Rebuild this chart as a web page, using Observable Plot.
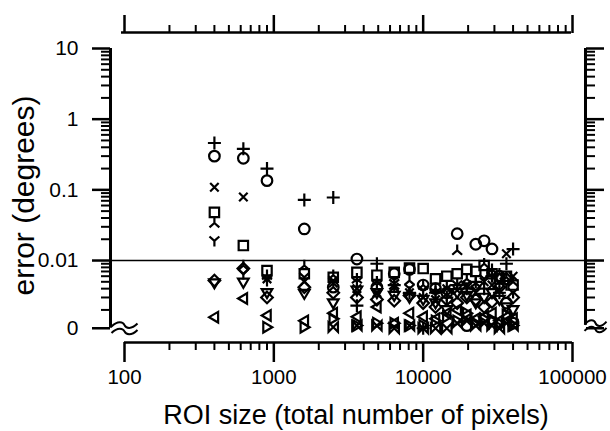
<!DOCTYPE html>
<html><head><meta charset="utf-8">
<script src="https://cdn.jsdelivr.net/npm/d3@7"></script>
<script src="https://cdn.jsdelivr.net/npm/@observablehq/plot@0.6"></script>
<style>html,body{margin:0;padding:0;background:#fff;}</style>
</head><body><div id="chart"></div>
<script>
// ROI sizes (total number of pixels)
const roiSizes = [400, 625, 900, 1600, 2500, 3600, 4900, 6400, 8100, 10000, 12100, 14400, 16900, 19600, 22500, 25600, 28900, 32400, 36100, 40000];
// error (degrees) per marker series; 0.0011 = plotted on the "0" break line
const plusErr     = [0.46, 0.38, 0.2, 0.072, 0.078, 0.0023, 0.009, 0.0045, 0.0035, 0.0011, 0.0035, 0.003, 0.0045, 0.004, 0.005, 0.004, 0.006, 0.0035, 0.009, 0.0145];
const circleErr   = [0.3, 0.28, 0.135, 0.028, 0.0042, 0.0105, 0.0042, 0.0065, 0.0075, 0.0045, 0.004, 0.0035, 0.024, 0.0012, 0.017, 0.019, 0.0146, 0.006, 0.0025, 0.0013];
const timesErr    = [0.109, 0.079, 0.0055, 0.005, 0.0048, 0.004, 0.0035, 0.0042, 0.0035, 0.003, 0.0028, 0.004, 0.0038, 0.0045, 0.0035, 0.005, 0.0045, 0.0038, 0.0125, 0.006];
const squareErr   = [0.048, 0.0163, 0.0072, 0.0065, 0.0058, 0.0068, 0.0062, 0.0068, 0.0078, 0.0077, 0.0055, 0.006, 0.0065, 0.0075, 0.007, 0.0085, 0.0065, 0.0055, 0.006, 0.0045];
const wyeDownErr  = [0.034, 0.0085, 0.0062, 0.0085, 0.0062, 0.0055, 0.005, 0.0045, 0.0052, 0.0045, 0.004, 0.0042, 0.0139, 0.0055, 0.0048, 0.009, 0.0075, 0.0065, 0.0058, 0.005];
const wyeErr      = [0.019, 0.0065, 0.0052, 0.0058, 0.0052, 0.005, 0.0045, 0.0047, 0.004, 0.0038, 0.0035, 0.0032, 0.0045, 0.0042, 0.0038, 0.0055, 0.006, 0.005, 0.0045, 0.0035];
const diamondErr  = [0.0052, 0.0077, 0.003, 0.0042, 0.0035, 0.003, 0.0028, 0.0027, 0.0032, 0.0025, 0.0022, 0.0028, 0.0025, 0.003, 0.0028, 0.0022, 0.0026, 0.0042, 0.0055, 0.003];
const triDownErr  = [0.0048, 0.0049, 0.0035, 0.0034, 0.0025, 0.0038, 0.0035, 0.0032, 0.003, 0.0028, 0.0025, 0.002, 0.0035, 0.0032, 0.0025, 0.003, 0.0035, 0.0028, 0.0022, 0.002];
const triLeftErr  = [0.00158, 0.0029, 0.00167, 0.0014, 0.0018, 0.0016, 0.0022, 0.0013, 0.0018, 0.0016, 0.0015, 0.0018, 0.002, 0.0017, 0.0015, 0.0016, 0.0018, 0.0014, 0.0016, 0.0015];
const triRightErr = [null, null, 0.00114, 0.00114, 0.0015, 0.0012, 0.0013, 0.0013, 0.0012, 0.0012, 0.0014, 0.0016, 0.0014, 0.0018, 0.0013, 0.0015, 0.0014, 0.0013, 0.0017, 0.0012];
const bowtieErr   = [null, null, null, null, 0.00114, 0.0012, 0.0012, 0.0011, 0.0012, 0.0011, 0.0011, 0.0011, 0.0013, 0.0014, 0.0012, 0.0013, 0.0012, 0.0011, 0.0013, 0.0012];

const thresholdErr = [0.01];
const xTicks = [100, 1000, 10000, 100000];
const xTickLabels = ["100", "1000", "10000", "100000"];
const yTicks = [10, 1, 0.1, 0.01, 0.0011];
const yTickLabels = ["10", "1", "0.1", "0.01", "0"];
const xTitle = "ROI size (total number of pixels)";
const yTitle = "error (degrees)";

// custom stroke symbols
const mk = (fn) => ({draw(ctx, size) { const r = Math.sqrt(size / Math.PI); fn(ctx, r); }});
const symPlus = mk((c, r) => { c.moveTo(-r, 0); c.lineTo(r, 0); c.moveTo(0, -r); c.lineTo(0, r); });
const symTimes = mk((c, r) => { const k = r * 0.8; c.moveTo(-k, -k); c.lineTo(k, k); c.moveTo(-k, k); c.lineTo(k, -k); });
const symCircle = mk((c, r) => { c.moveTo(r, 0); c.arc(0, 0, r, 0, 2 * Math.PI); c.closePath(); });
const symSquare = mk((c, r) => { c.moveTo(-r, -r); c.lineTo(r, -r); c.lineTo(r, r); c.lineTo(-r, r); c.closePath(); });
const symDiamond = mk((c, r) => { c.moveTo(0, -r); c.lineTo(r, 0); c.lineTo(0, r); c.lineTo(-r, 0); c.closePath(); });
const symTriDown = mk((c, r) => { c.moveTo(-r, -r * 0.7); c.lineTo(r, -r * 0.7); c.lineTo(0, r); c.closePath(); });
const symTriLeft = mk((c, r) => { c.moveTo(r * 0.7, -r); c.lineTo(r * 0.7, r); c.lineTo(-r, 0); c.closePath(); });
const symTriRight = mk((c, r) => { c.moveTo(-r * 0.7, -r); c.lineTo(-r * 0.7, r); c.lineTo(r, 0); c.closePath(); });
const symWye = mk((c, r) => { c.moveTo(0, 0); c.lineTo(0, r); c.moveTo(0, 0); c.lineTo(-r * 0.85, -r * 0.75); c.moveTo(0, 0); c.lineTo(r * 0.85, -r * 0.75); });
const symWyeDown = mk((c, r) => { c.moveTo(0, 0); c.lineTo(0, -r); c.moveTo(0, 0); c.lineTo(-r * 0.85, r * 0.75); c.moveTo(0, 0); c.lineTo(r * 0.85, r * 0.75); });
const symBowtie = mk((c, r) => { c.moveTo(-r, -r); c.lineTo(r, r); c.lineTo(r, -r); c.lineTo(-r, r); c.closePath(); });
const symBreak = mk((c, r) => {
  for (const y0 of [-3.2, 3.2]) {
    c.moveTo(-r, y0 + 1.5);
    c.bezierCurveTo(-r * 0.5, y0 - 5, -r * 0.1, y0 - 3, 0, y0);
    c.bezierCurveTo(r * 0.1, y0 + 3, r * 0.5, y0 + 5, r, y0 - 1.5);
  }
});

const series = [
  {values: plusErr, symbol: symPlus, r: 6.5},
  {values: circleErr, symbol: symCircle, r: 5.3},
  {values: timesErr, symbol: symTimes, r: 5.3},
  {values: squareErr, symbol: symSquare, r: 4.7},
  {values: wyeDownErr, symbol: symWyeDown, r: 5.8},
  {values: wyeErr, symbol: symWye, r: 5.8},
  {values: diamondErr, symbol: symDiamond, r: 5.8},
  {values: triDownErr, symbol: symTriDown, r: 5.3},
  {values: triLeftErr, symbol: symTriLeft, r: 5.3},
  {values: triRightErr, symbol: symTriRight, r: 5.3},
  {values: bowtieErr, symbol: symBowtie, r: 4.7}
];

const minorX = d3.scaleLog().domain([100, 100000]).ticks().filter(v => !xTicks.includes(v));
const minorY = d3.scaleLog().domain([0.0011, 10]).ticks().filter(v => ![10, 1, 0.1, 0.01, 0.001].some(t => Math.abs(v - t) < t * 1e-6));

const dotMarks = series.map(s => Plot.dot(
  roiSizes.map((x, i) => ({roi: x, err: s.values[i]})).filter(d => d.err != null),
  {x: "roi", y: "err", symbol: s.symbol, r: s.r, stroke: "black", strokeWidth: 2.2, fill: "none"}
));

const lab = (labels, ticks) => (d) => labels[ticks.indexOf(d)];
const none = () => "";

const chart = Plot.plot({
  width: 610,
  height: 431,
  marginLeft: 110,
  marginRight: 25,
  marginTop: 32,
  marginBottom: 89,
  style: {fontFamily: "'Liberation Sans', Arial, Helvetica, sans-serif", fontSize: "21px", background: "#fff", color: "#000"},
  x: {type: "log", domain: [100, 100000], range: [124, 572], axis: null, label: null},
  y: {type: "log", domain: [0.001, 10], range: [330.7, 48], axis: null, label: null},
  marks: [
    // axis lines
    Plot.ruleX([100], {y1: 0.0011, y2: 10, dx: -14, strokeWidth: 3}),
    Plot.ruleX([100000], {y1: 0.0011, y2: 10, dx: 13, strokeWidth: 3, insetTop: -3}),
    Plot.ruleY([0.001], {x1: 100, x2: 100000, dy: 11.3, strokeWidth: 2.5}),
    Plot.ruleY([10], {x1: 100, x2: 100000, dy: -16, strokeWidth: 2.5, insetLeft: -3, insetRight: 1}),
    // ticks
    Plot.axisY(yTicks, {anchor: "left", tickSize: 18, tickPadding: 14, strokeWidth: 2.5, tickFormat: lab(yTickLabels, yTicks), label: null, fontSize: 21}),
    Plot.axisY(minorY, {anchor: "left", tickSize: 9, strokeWidth: 2, tickFormat: none, label: null}),
    Plot.axisY(yTicks, {anchor: "right", tickSize: 18, strokeWidth: 2.5, tickFormat: none, label: null}),
    Plot.axisY(minorY, {anchor: "right", tickSize: 9, strokeWidth: 2, tickFormat: none, label: null}),
    Plot.axisX(xTicks, {anchor: "bottom", tickSize: 20, tickPadding: 7, strokeWidth: 2.5, tickFormat: lab(xTickLabels, xTicks), label: null, fontSize: 20.5}),
    Plot.axisX(minorX, {anchor: "bottom", tickSize: 8, strokeWidth: 2, tickFormat: none, label: null}),
    Plot.axisX(xTicks, {anchor: "top", tickSize: 18, strokeWidth: 2.5, tickFormat: none, label: null}),
    Plot.axisX(minorX, {anchor: "top", tickSize: 8, strokeWidth: 2, tickFormat: none, label: null}),
    // axis breaks
    Plot.dot([0.0011], {x: () => 100, y: d => d, symbol: symBreak, r: 13, stroke: "black", strokeWidth: 2, fill: "none"}),
    Plot.dot([0.0011], {x: () => 100000, y: d => d, dx: 23, dy: -2, symbol: symBreak, r: 11, stroke: "black", strokeWidth: 2, fill: "none"}),
    // threshold line
    Plot.ruleY(thresholdErr, {x1: 100, x2: 100000, insetLeft: -14, insetRight: -13, strokeWidth: 1.5}),
    ...dotMarks,
    // titles
    Plot.text([xTitle], {frameAnchor: "bottom", textAnchor: "middle", lineAnchor: "bottom", dx: 8, dy: 81, fontSize: 27, text: d => d}),
    Plot.text([yTitle], {frameAnchor: "left", textAnchor: "middle", lineAnchor: "middle", dx: -86, dy: 8, rotate: -90, fontSize: 30, text: d => d})
  ]
});
document.getElementById("chart").appendChild(chart);
</script>
</body></html>
